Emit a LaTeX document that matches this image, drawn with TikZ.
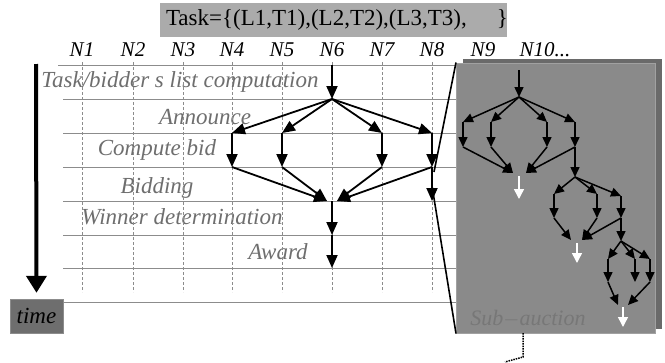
\documentclass[tikz,border=0pt]{standalone}
\usepackage{fontspec}
\setmainfont{Liberation Serif}
\usetikzlibrary{arrows.meta, shadows}

\definecolor{linegray}{HTML}{8C8C8C}
\definecolor{phasegray}{HTML}{6E6E6E}
\definecolor{taskgray}{HTML}{ABABAB}
\definecolor{timegray}{HTML}{6E6E6E}
\definecolor{boxgray}{HTML}{8A8A8A}
\definecolor{shadowgray}{HTML}{6A6A6A}
\definecolor{subtextgray}{HTML}{777777}

\begin{document}
\begin{tikzpicture}[x=1pt, y=-1pt,
        col/.style={font=\fontsize{21}{24}\selectfont\itshape, inner sep=0pt},
        phase/.style={font=\fontsize{23}{26}\selectfont\itshape, text=phasegray, inner sep=0pt},
        hline/.style={draw=linegray, line width=1pt},
        vline/.style={draw=linegray, line width=0.6pt, dash pattern=on 3pt off 2pt},
        taskbox/.style={rectangle, fill=taskgray, inner xsep=6pt, inner ysep=0pt,
                        minimum height=34pt, font=\fontsize{23}{26}\selectfont},
        timebox/.style={rectangle, fill=timegray, draw=linegray, minimum width=53pt,
                        minimum height=34pt, font=\fontsize{23}{26}\selectfont\itshape},
        subbox/.style={rectangle, fill=boxgray, draw=boxgray!80!white, line width=1pt,
                       minimum width=199pt, minimum height=270pt,
                       drop shadow={shadow xshift=6pt, shadow yshift=4pt,
                                    fill=shadowgray, opacity=1}},
        timearr/.style={-{Triangle[length=17pt,width=20pt]}, line width=4pt},
        arr/.style={-{Triangle[length=13pt,width=11pt]}, line width=1.8pt},
        sarr/.style={-{Triangle[length=10pt,width=9pt]}, line width=1.5pt},
        warr/.style={-{Triangle[length=10pt,width=10pt]}, line width=1.5pt, white},
        zoomline/.style={line width=1.6pt}]
      \useasboundingbox (0,0) rectangle (665,362);

      % task list on top
      \node[taskbox] (task) at (333.5,20)
        {\makebox[335pt][l]{Task=\{(L1,T1),(L2,T2),(L3,T3),\hspace{1.3em}\}}};

      % bidders
      \node[col] (n1) at (82,50) {N1};
      \node[col] (n2) at (133,50) {N2};
      \node[col] (n3) at (183,50) {N3};
      \node[col] (n4) at (232,50) {N4};
      \node[col] (n5) at (282,50) {N5};
      \node[col] (n6) at (332,50) {N6};
      \node[col] (n7) at (382,50) {N7};
      \node[col] (n8) at (432,50) {N8};
      \node[col] (n9) at (483,50) {N9};
      \node[col] (n10) at (545,50) {N10...};

      % phase names
      \node[phase] (p1) at (180,82) {Task/bidder s list computation};
      \node[phase] (p2) at (205,117) {Announce};
      \node[phase] (p3) at (157,150) {Compute bid};
      \node[phase] (p4) at (157,188) {Bidding};
      \node[phase] (p5) at (182,217) {Winner determination};
      \node[phase] (p6) at (278,252) {Award};

      % grid
      \draw[hline] (58,65) -- (456,65);
      \foreach \y in {99,133,167,201,235,268,302}
        \draw[hline] (63,\y) -- (456,\y);
      \foreach \x in {82,133,183,232,282,332,382,432}
        \draw[vline] (\x,62) -- (\x,292);

      % time axis
      \node[timebox] (time) at (36.5,316) {time};
      \coordinate (t0) at (36,64);
      \draw[timearr, shorten >=6pt] (t0) -- (time.north);

      % sub-auction box
      \node[subbox] (sub) at (556,198) {};
      \node[font=\fontsize{22}{25}\selectfont\itshape, text=subtextgray] (sublbl) at (528,319) {Sub$-$auction};
      \coordinate (z1) at (434,172);
      \coordinate (z2) at (432,186);
      \draw[zoomline] (z1) -- (sub.north west);
      \draw[zoomline] (z2) -- (sub.south west);
      \coordinate (d0) at (523,333);
      \coordinate (d1) at (523,357);
      \coordinate (d2) at (505,362);
      \draw[line width=1.5pt, densely dotted] (d0) -- (d1) -- (d2);

      % main auction
      \coordinate (m0) at (332,65);
      \coordinate (m1) at (332,99);
      \coordinate (a1) at (232,133);
      \coordinate (a2) at (282,133);
      \coordinate (a3) at (382,133);
      \coordinate (a4) at (432,133);
      \coordinate (b1) at (232,167);
      \coordinate (b2) at (282,167);
      \coordinate (b3) at (382,167);
      \coordinate (b4) at (432,167);
      \coordinate (wl) at (327,201);
      \coordinate (wr) at (337,201);
      \coordinate (w) at (332,201);
      \coordinate (c4) at (432,201);
      \coordinate (dd) at (332,235);
      \coordinate (ee) at (332,268);
      \draw[arr] (m0) -- (m1);
      \foreach \i in {1,...,4} {
        \draw[arr] (m1) -- (a\i);
        \draw[arr] (a\i) -- (b\i);
      }
      \draw[arr] (b1) -- (wl);
      \draw[arr] (b2) -- (wl);
      \draw[arr] (b3) -- (wr);
      \draw[arr] (b4) -- (wr);
      \draw[arr] (b4) -- (c4);
      \draw[arr] (w) -- (dd);
      \draw[arr] (dd) -- (ee);

      % sub-auction, first level
      \coordinate (u0) at (519,70);
      \coordinate (u1) at (519,97);
      \coordinate (ua1) at (463,122);
      \coordinate (ua2) at (491,122);
      \coordinate (ua3) at (547,122);
      \coordinate (ua4) at (575,122);
      \coordinate (ub1) at (463,147);
      \coordinate (ub2) at (491,147);
      \coordinate (ub3) at (547,147);
      \coordinate (ub4) at (575,147);
      \coordinate (ul) at (513,173);
      \coordinate (ur) at (526,173);
      \coordinate (uo) at (519,176);
      \coordinate (uw) at (519,199);
      \draw[sarr] (u0) -- (u1);
      \foreach \i in {1,...,4} {
        \draw[sarr] (u1) -- (ua\i);
        \draw[sarr] (ua\i) -- (ub\i);
      }
      \draw[sarr] (ub1) -- (ul);
      \draw[sarr] (ub2) -- (ul);
      \draw[sarr] (ub3) -- (ur);
      \draw[sarr] (ub4) -- (ur);
      \draw[warr] (uo) -- (uw);

      % second level
      \coordinate (v1) at (575,177);
      \coordinate (va1) at (554,194);
      \coordinate (va2) at (597,194);
      \coordinate (va3) at (621,196);
      \coordinate (vb1) at (554,218);
      \coordinate (vb2) at (597,218);
      \coordinate (vb3) at (621,218);
      \coordinate (vl) at (571,240);
      \coordinate (vr) at (582,240);
      \coordinate (vo) at (577,243);
      \coordinate (vw) at (577,263);
      \draw[sarr] (ub4) -- (v1);
      \foreach \i in {1,2,3} {
        \draw[sarr] (v1) -- (va\i);
        \draw[sarr] (va\i) -- (vb\i);
      }
      \draw[sarr] (vb1) -- (vl);
      \draw[sarr] (vb2) -- (vr);
      \draw[sarr] (vb3) -- (vr);
      \draw[warr] (vo) -- (vw);

      % third level
      \coordinate (x1) at (621,241);
      \coordinate (xa1) at (608,259);
      \coordinate (xa2) at (635,259);
      \coordinate (xa3) at (650,259);
      \coordinate (xb1) at (608,282);
      \coordinate (xb2) at (635,282);
      \coordinate (xb3) at (650,282);
      \coordinate (xl) at (618,305);
      \coordinate (xr) at (628,305);
      \coordinate (xo) at (623,307);
      \coordinate (xw) at (623,327);
      \draw[sarr] (vb3) -- (x1);
      \foreach \i in {1,2,3} {
        \draw[sarr] (x1) -- (xa\i);
        \draw[sarr] (xa\i) -- (xb\i);
      }
      \draw[sarr] (xb1) -- (xl);
      \draw[sarr] (xb3) -- (xr);
      \draw[warr] (xo) -- (xw);
    \end{tikzpicture}
\end{document}
